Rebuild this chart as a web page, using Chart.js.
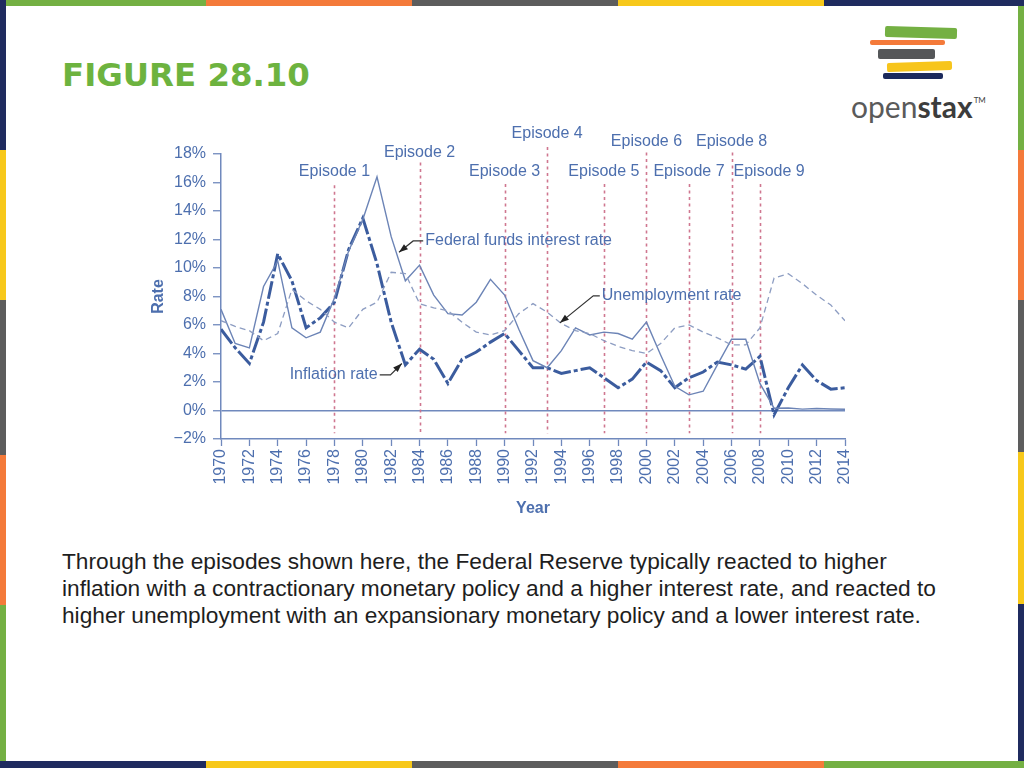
<!DOCTYPE html>
<html><head><meta charset="utf-8">
<script src="https://cdn.jsdelivr.net/npm/chart.js@4"></script>
<style>
html,body{margin:0;padding:0;background:#fff;}
body{width:1024px;height:768px;position:relative;overflow:hidden;font-family:"Liberation Sans",Arial,sans-serif;}
.b{position:absolute;}
#title{position:absolute;left:62px;top:59px;font-family:"DejaVu Sans",sans-serif;font-weight:bold;font-size:32.4px;line-height:32px;color:#6db33f;white-space:nowrap;}
#caption{position:absolute;left:62px;top:548px;font-size:22.7px;line-height:27px;color:#1e1e1e;white-space:nowrap;}
#logoText{position:absolute;left:851px;top:84px;font-family:Lato,"Open Sans",sans-serif;font-size:30px;line-height:32px;white-space:nowrap;}
#logoText .o{color:#5a5a5a;font-weight:400;}
#logoText .s{color:#3c3c3c;font-weight:700;}
#logoText sup{font-size:8px;color:#444;vertical-align:15px;margin-left:1px;}
#chartBox{position:absolute;left:140px;top:120px;width:730px;height:420px;}
</style></head><body>
<div id="borders"></div>
<div id="title">FIGURE 28.10</div>
<div class="b" style="left:885px;top:27px;width:72px;height:11px;background:#74b043;border-radius:2px;transform:rotate(1.5deg);"></div>
<div class="b" style="left:870px;top:40px;width:75px;height:5px;background:#f47a3a;border-radius:2px;"></div>
<div class="b" style="left:878px;top:49px;width:57px;height:10px;background:#555759;border-radius:2px;"></div>
<div class="b" style="left:887px;top:62px;width:65px;height:9px;background:#f7c51c;border-radius:2px;transform:rotate(-2deg);"></div>
<div class="b" style="left:883px;top:73px;width:60px;height:6px;background:#1c2a5c;border-radius:2px;"></div>
<div id="logoText"><span class="o">open</span><span class="s">stax</span><sup>TM</sup></div>
<div id="chartBox"><canvas id="c" width="730" height="420"></canvas></div>
<div id="caption">Through the episodes shown here, the Federal Reserve typically reacted to higher<br>inflation with a contractionary monetary policy and a higher interest rate, and reacted to<br>higher unemployment with an expansionary monetary policy and a lower interest rate.</div>
<script>
// ---- data ----
const years = [1970,1971,1972,1973,1974,1975,1976,1977,1978,1979,1980,1981,1982,1983,1984,1985,1986,1987,1988,1989,1990,1991,1992,1993,1994,1995,1996,1997,1998,1999,2000,2001,2002,2003,2004,2005,2006,2007,2008,2009,2010,2011,2012,2013,2014];
const fedFundsRate = [7.1,4.7,4.4,8.7,10.5,5.8,5.1,5.5,7.9,11.2,13.4,16.4,12.2,9.1,10.2,8.1,6.8,6.7,7.6,9.2,8.1,5.7,3.5,3.0,4.2,5.8,5.3,5.5,5.4,5.0,6.2,3.9,1.7,1.1,1.35,3.2,5.0,5.0,1.9,0.16,0.18,0.1,0.14,0.11,0.09];
const unemploymentRate = [6.3,5.9,5.6,4.9,5.4,8.5,7.7,7.1,6.2,5.8,7.1,7.6,9.7,9.6,7.5,7.2,7.0,6.2,5.5,5.3,5.6,6.8,7.5,6.9,6.1,5.6,5.4,4.9,4.5,4.2,4.0,4.7,5.8,6.0,5.5,5.1,4.6,4.6,5.8,9.3,9.6,8.9,8.1,7.4,6.3];
const inflationRate = [5.7,4.4,3.3,6.2,11.0,9.1,5.8,6.5,7.6,11.3,13.5,10.3,6.2,3.2,4.3,3.6,1.9,3.6,4.1,4.8,5.4,4.2,3.0,3.0,2.6,2.8,3.0,2.3,1.6,2.2,3.4,2.8,1.6,2.3,2.7,3.4,3.2,2.9,3.8,-0.3,1.6,3.2,2.1,1.5,1.6];
const yMin = -2, yMax = 18, yStep = 2;
const xMin = 1970, xMax = 2014, xStep = 2;

const episodeNames = ['Episode 1','Episode 2','Episode 3','Episode 4','Episode 5','Episode 6','Episode 7','Episode 8','Episode 9'];
const episodeYears = [1978,1984,1990,1993,1997,2000,2003,2006,2008];
const episodeLabelYear = [1978,1984,1990,1993,1997,2000,2003,2006,2008.65];
const episodeLabelPct = [16.8,18.1,16.8,19.4,16.8,18.9,16.8,18.9,16.8];
const episodeLineTop = [15.8,17.4,15.9,18.5,15.9,18.1,15.9,18.1,15.9];
const episodeLineBottom = -1.6;

const noteTexts = ['Federal funds interest rate','Unemployment rate','Inflation rate'];
const noteAlign = ['left','left','right'];
const noteTextYear = [1984.4,1996.85,1981.05];
const noteTextPct = [11.9,8.05,2.5];
const noteElbowYear = [1983.55,1996.25,1981.95];
const noteTipYear = [1982.55,1993.9,1982.75];
const noteTipPct = [11.1,6.15,3.3];

// ---- colours ----
const axisColor = '#7089bd';
const textColor = '#4d6fae';
const episodeColor = 'rgba(204,112,138,0.95)';

// ---- borders ----
(function(){
  const g='#74b043', o='#f47a3a', d='#5d5d5d', y='#f7c81a', n='#1f2b5f';
  const segs = [
    [0,0,206,6,g],[206,0,206,6,o],[412,0,206,6,d],[618,0,206,6,y],[824,0,200,6,n],
    [0,761,206,7,n],[206,761,206,7,y],[412,761,206,7,d],[618,761,206,7,o],[824,761,200,7,g],
    [0,0,6,150,n],[0,150,6,150,y],[0,300,6,155,d],[0,455,6,150,o],[0,605,6,156,g],
    [1018,6,6,144,g],[1018,150,6,150,o],[1018,300,6,152,d],[1018,452,6,152,y],[1018,604,6,157,n]
  ];
  const box = document.getElementById('borders');
  segs.forEach(s=>{const e=document.createElement('div');e.className='b';e.style.cssText=`left:${s[0]}px;top:${s[1]}px;width:${s[2]}px;height:${s[3]}px;background:${s[4]};`;box.appendChild(e);});
})();

const FONT = '"Liberation Sans", Arial, sans-serif';

const overlayPlugin = {
  id:'overlay',
  beforeDatasetsDraw(chart){
    const {ctx, scales:{x,y}} = chart;
    ctx.save();
    ctx.strokeStyle = episodeColor; ctx.lineWidth = 1.6; ctx.setLineDash([3,3.5]);
    episodeYears.forEach((yr,i)=>{
      const px = Math.round(x.getPixelForValue(yr))+0.5;
      ctx.beginPath();
      ctx.moveTo(px, y.getPixelForValue(episodeLineTop[i]));
      ctx.lineTo(px, y.getPixelForValue(episodeLineBottom));
      ctx.stroke();
    });
    ctx.setLineDash([]);
    ctx.fillStyle = textColor; ctx.font = '16px '+FONT; ctx.textAlign='center'; ctx.textBaseline='middle';
    episodeNames.forEach((nm,i)=>{
      ctx.fillText(nm, x.getPixelForValue(episodeLabelYear[i]), y.getPixelForValue(episodeLabelPct[i]));
    });
    ctx.restore();
  },
  afterDatasetsDraw(chart){
    const {ctx, scales:{x,y}} = chart;
    ctx.save();
    ctx.font = '16px '+FONT; ctx.textBaseline='middle';
    noteTexts.forEach((t,i)=>{
      const tx = x.getPixelForValue(noteTextYear[i]);
      const ty = y.getPixelForValue(noteTextPct[i]);
      ctx.fillStyle = textColor; ctx.textAlign = noteAlign[i];
      ctx.fillText(t, tx, ty);
      const ex = x.getPixelForValue(noteElbowYear[i]);
      const startX = noteAlign[i]==='left' ? tx-2 : tx+2;
      const px = x.getPixelForValue(noteTipYear[i]);
      const py = y.getPixelForValue(noteTipPct[i]);
      ctx.strokeStyle = '#333'; ctx.lineWidth = 1.2;
      ctx.beginPath(); ctx.moveTo(startX, ty); ctx.lineTo(ex, ty); ctx.lineTo(px, py); ctx.stroke();
      const ang = Math.atan2(py-ty, px-ex);
      const L = 9, W = 3.2;
      ctx.fillStyle = '#222';
      ctx.beginPath();
      ctx.moveTo(px, py);
      ctx.lineTo(px - L*Math.cos(ang) + W*Math.sin(ang), py - L*Math.sin(ang) - W*Math.cos(ang));
      ctx.lineTo(px - L*Math.cos(ang) - W*Math.sin(ang), py - L*Math.sin(ang) + W*Math.cos(ang));
      ctx.closePath(); ctx.fill();
    });
    ctx.restore();
  }
};

const pts = arr => years.map((yr,i)=>({x:yr, y:arr[i]}));

new Chart(document.getElementById('c'), {
  type:'line',
  data:{
    datasets:[
      {label:'Unemployment rate', data:pts(unemploymentRate), borderColor:'#8d9dc2', borderWidth:1.3, borderDash:[6,4], pointRadius:0, tension:0, fill:false},
      {label:'Federal funds interest rate', data:pts(fedFundsRate), borderColor:'#6c84b6', borderWidth:1.4, pointRadius:0, tension:0, fill:false},
      {label:'Inflation rate', data:pts(inflationRate), borderColor:'#3b5c9e', borderWidth:3, borderDash:[18,3,4,3], pointRadius:0, tension:0, fill:false}
    ]
  },
  options:{
    responsive:false, animation:false, devicePixelRatio:1,
    layout:{padding:{top:34,right:25,left:0,bottom:0}},
    plugins:{legend:{display:false}, tooltip:{enabled:false}},
    scales:{
      x:{
        type:'linear', min:xMin, max:xMax,
        afterFit(s){ s.height = 101; },
        border:{display:true, color:axisColor, width:1.5},
        grid:{drawOnChartArea:false, drawTicks:true, tickLength:7, tickColor:axisColor, tickWidth:1.3},
        ticks:{stepSize:xStep, autoSkip:false, maxRotation:90, minRotation:90, padding:3, color:textColor,
          font:{family:FONT, size:16}, callback:v=>String(v)},
        title:{display:true, text:'Year', color:textColor, font:{family:FONT, size:16, weight:'bold'}, padding:{top:0,bottom:22}}
      },
      y:{
        min:yMin, max:yMax,
        afterFit(s){ s.width = 81; },
        border:{display:true, color:axisColor, width:1.5},
        grid:{drawTicks:true, tickLength:8, tickColor:axisColor, tickWidth:1.3, lineWidth:1.5,
          color:c=> (c.tick && c.tick.value===0) ? axisColor : 'rgba(0,0,0,0)'},
        ticks:{stepSize:yStep, padding:7, color:textColor, font:{family:FONT, size:16},
          callback:v=> (v<0?'\u2212':'') + Math.abs(v) + '%'},
        title:{display:true, text:'Rate', color:textColor, font:{family:FONT, size:16, weight:'bold'}, padding:{top:9,bottom:0}}
      }
    }
  },
  plugins:[overlayPlugin]
});
</script>
</body></html>
